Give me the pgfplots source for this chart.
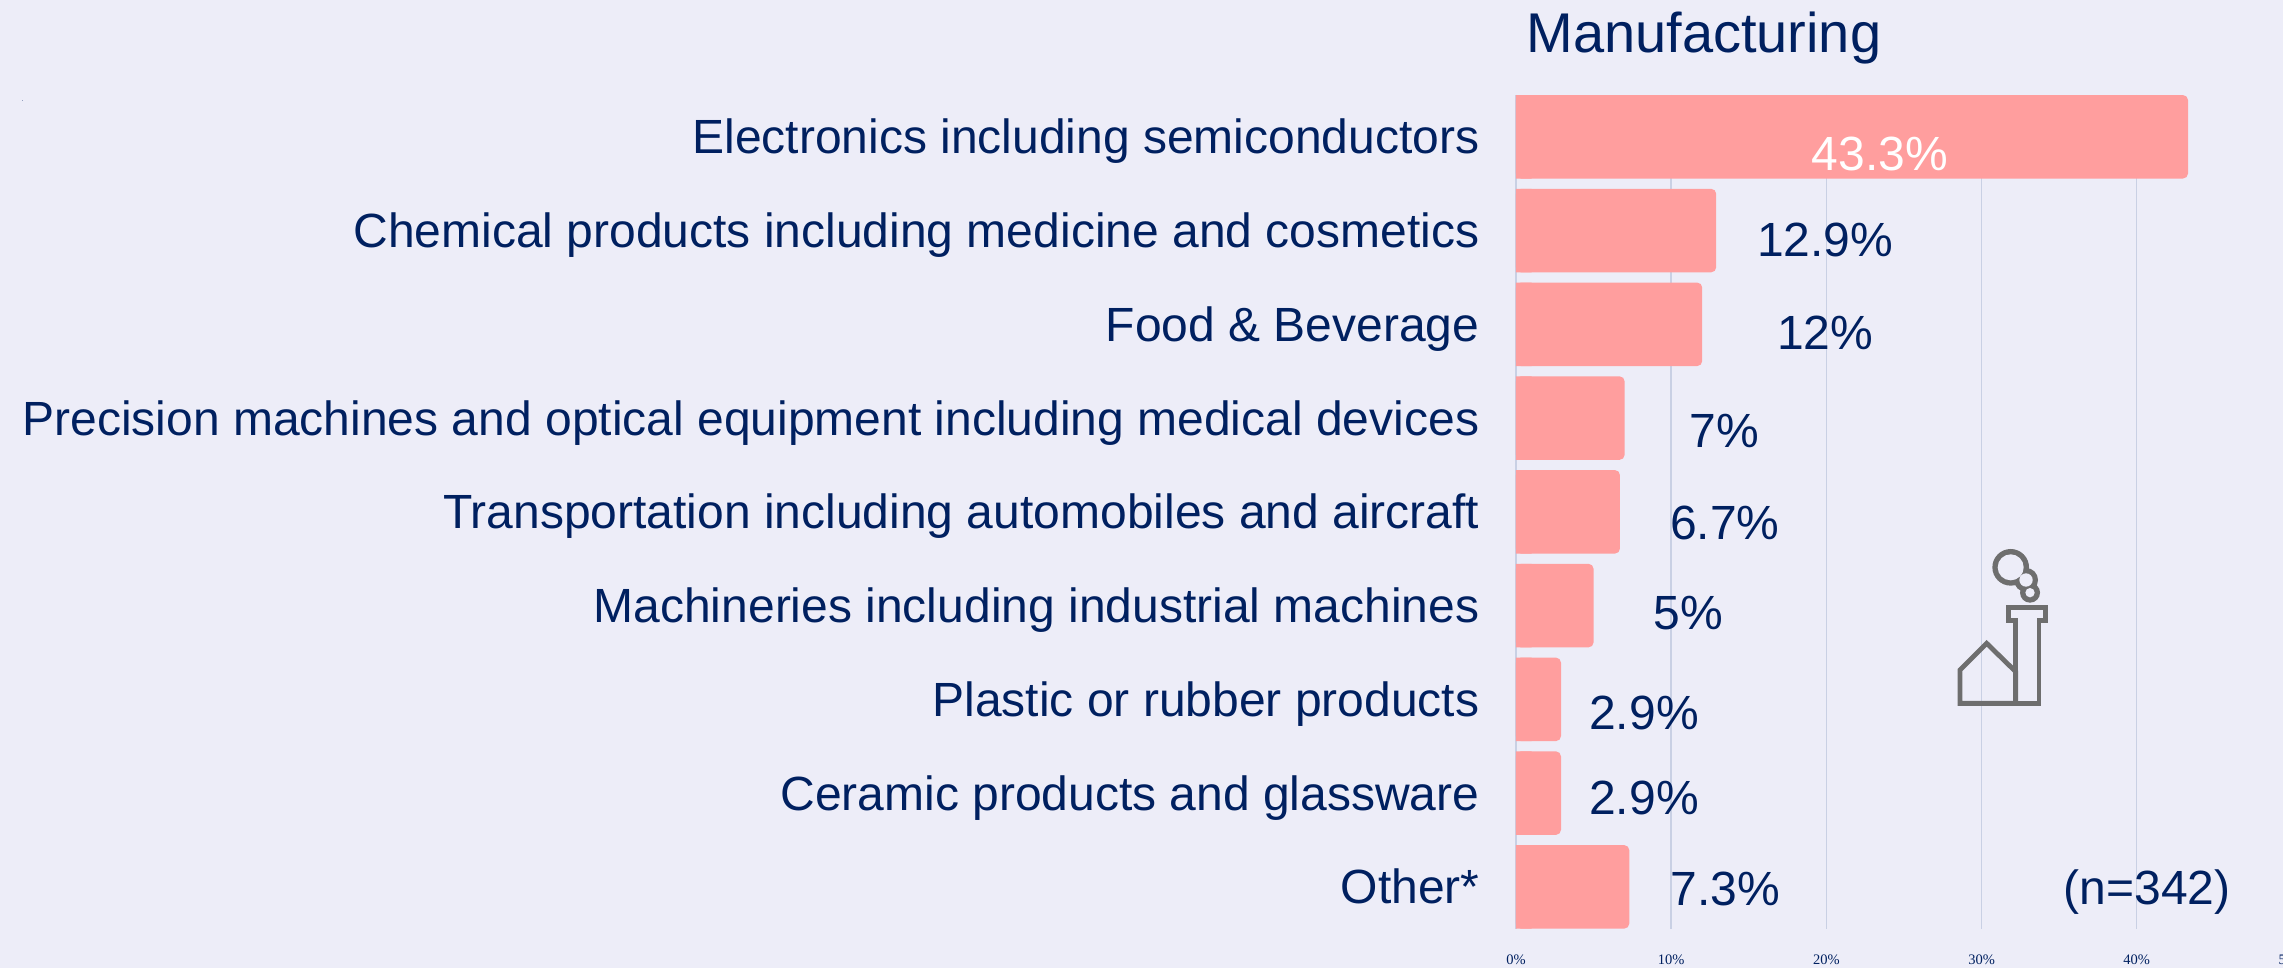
\documentclass[border=0pt]{standalone}
\usepackage{fontspec}
\setmainfont{Liberation Sans}
\newfontfamily\tickfont{Liberation Serif}
\usepackage{pgfplots}
\usepackage{pgfplotstable}
\pgfplotsset{compat=1.18}

\definecolor{bgcol}{HTML}{EDEDF8}
\definecolor{barcol}{HTML}{FF9E9E}
\definecolor{navy}{HTML}{002060}
\definecolor{gridcol}{HTML}{C9D0E4}
\definecolor{iconcol}{HTML}{6E6E6E}

% dx,dy: offset of the value label from the end of the bar, in image pixels
% lc: 100 navy label, 0 white label
\pgfplotstableread{
pos val  label    dx   dy lc
0   43.3 43.3\%  -308  17 0
1   12.9 12.9\%   109   9 100
2   12   12\%     123   9 100
3   7    7\%      100  13 100
4   6.7  6.7\%    105  11 100
5   5    5\%       95   7 100
6   2.9  2.9\%     83  14 100
7   2.9  2.9\%     83   5 100
8   7.3  7.3\%     96   2 100
}\sharedata

\begin{document}
\begin{tikzpicture}[x=0.5pt,y=0.5pt]
  % page is 2283x968, one unit is one image pixel
  \path[use as bounding box,fill=bgcol] (0,0) rectangle (2283,968);
  \node[font=\fontsize{3}{3}\selectfont,text=navy,inner sep=0pt] at (22.5,867) {.};

  \begin{axis}[
    at={(758pt,19.65pt)}, anchor=south west,
    scale only axis, width=388pt, height=416.85pt,
    xmin=0, xmax=50, ymin=-0.446, ymax=8.446,
    y dir=reverse,
    xbar, bar width=41.75pt, bar shift=0pt,
    axis line style={draw=none},
    tick style={draw=none},
    xmajorgrids, grid style={gridcol,line width=0.7pt},
    xtick={0,10,20,30,40,50},
    xticklabels={0\%,10\%,20\%,30\%,40\%,50\%},
    x tick label style={font=\tickfont\fontsize{7.25}{8}\selectfont,text=navy,yshift=-9.5pt},
    ytick={0,1,2,3,4,5,6,7,8},
    yticklabels={Electronics including semiconductors,
      Chemical products including medicine and cosmetics,
      Food \& Beverage,
      Precision machines and optical equipment including medical devices,
      Transportation including automobiles and aircraft,
      Machineries including industrial machines,
      Plastic or rubber products,
      Ceramic products and glassware,
      Other*},
    y tick label style={font=\fontsize{24}{28}\selectfont,text=navy,xshift=-10.5pt,yshift=-2.5pt,
      text height=17pt,text depth=5pt},
    title=Manufacturing,
    title style={font=\fontsize{28}{32}\selectfont,text=navy,
      at={(0.0129,1.0369)},anchor=base west,inner sep=0pt},
    clip=false,
  ]
    \addplot[fill=barcol,draw=none,rounded corners=2.5pt,
      visualization depends on=\thisrow{dx} \as \dx,
      visualization depends on=\thisrow{dy} \as \dy,
      visualization depends on=\thisrow{lc} \as \lc,
      point meta=explicit symbolic,
      nodes near coords,
      every node near coord/.append style={
        anchor=center,font=\fontsize{24}{28}\selectfont,text=navy!\lc!white,
        xshift=\dx*0.5pt,yshift=-\dy*0.5pt},
    ] table[x=val,y=pos,meta=label] {\sharedata};
    % square off the left end of the bars, only the right corners are round
    \addplot[fill=barcol,draw=none,forget plot] coordinates
      {(1,0) (1,1) (1,2) (1,3) (1,4) (1,5) (1,6) (1,7) (1,8)};
    \node[font=\fontsize{24}{28}\selectfont,text=navy] at (axis cs:40.66,8.06) {(n=342)};
  \end{axis}

  % factory icon
  \begin{scope}[shift={(1920,968-530)},x=0.1667pt,y=-0.1667pt,line width=2.4pt,draw=iconcol]
    \fill[iconcol] (272,112) circle (55) (318,150) circle (36) (330,188) circle (30);
    \fill[bgcol] (272,112) circle (39) (318,150) circle (20) (330,188) circle (14);
    \draw (120,420) -- (200,340) -- (287,425) -- (287,520) -- (120,520) -- cycle;
    \draw (265,233) -- (377,233) -- (377,272) -- (357,272) -- (357,520) -- (287,520) -- (287,272) -- (265,272) -- cycle;
  \end{scope}
\end{tikzpicture}
\end{document}
